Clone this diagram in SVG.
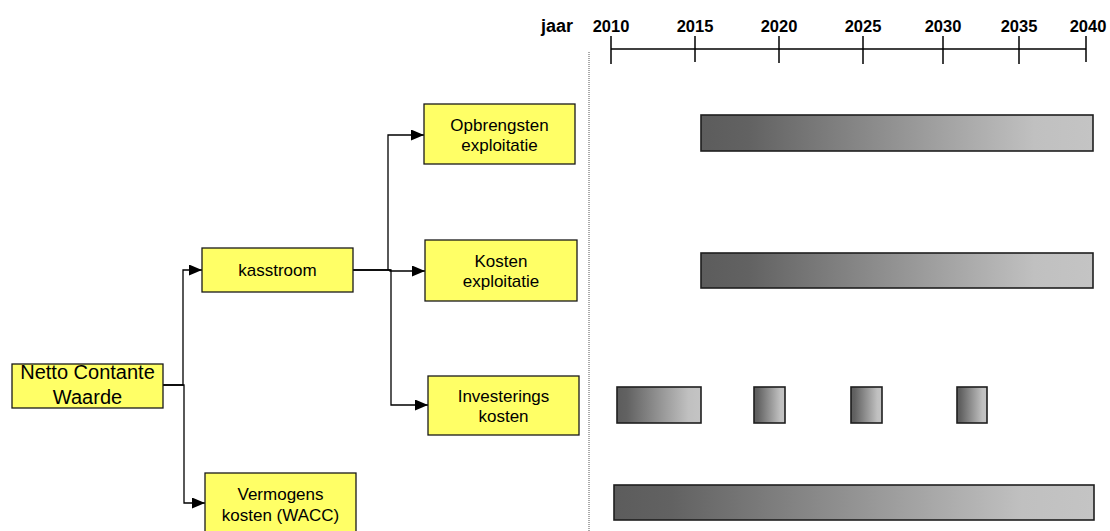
<svg xmlns="http://www.w3.org/2000/svg" width="1110" height="531" viewBox="0 0 1110 531">
<style>
.node rect{fill:#ffff66;stroke:#1a1a1a;stroke-width:1.3}
.node text{font-family:"Liberation Sans",Arial,sans-serif;font-size:17px;fill:#000;text-anchor:middle}
.big text{font-size:20px}
.conn path{fill:none;stroke:#000;stroke-width:1.3}
.axis line{stroke:#000;stroke-width:1.5}
.yr{font-family:"Liberation Sans",Arial,sans-serif;font-size:16.5px;font-weight:bold;text-anchor:middle;fill:#000}
.bar{fill:url(#g);stroke:#1e1e1e;stroke-width:1.6}
</style>
<defs>
<linearGradient id="g" x1="0" y1="0" x2="1" y2="0">
<stop offset="0" stop-color="#5c5c5c"/>
<stop offset="0.12" stop-color="#626262"/>
<stop offset="0.85" stop-color="#c0c0c0"/>
<stop offset="1" stop-color="#c4c4c4"/>
</linearGradient>
<marker id="arr" viewBox="0 0 13 11" refX="13" refY="5.5" markerWidth="13" markerHeight="11" markerUnits="userSpaceOnUse" orient="auto">
<path d="M0,0 L13,5.5 L0,11 Z" fill="#000"/>
</marker>
</defs>
<rect width="1110" height="531" fill="#fff"/>

<g id="timeline">
<text class="yr" x="557" y="32" style="font-size:18px">jaar</text>
<text class="yr" x="611" y="32">2010</text>
<text class="yr" x="695" y="32">2015</text>
<text class="yr" x="779" y="32">2020</text>
<text class="yr" x="863" y="32">2025</text>
<text class="yr" x="943" y="32">2030</text>
<text class="yr" x="1019" y="32">2035</text>
<text class="yr" x="1088" y="32">2040</text>
<g class="axis">
<line x1="611" y1="49" x2="1086" y2="49"/>
<line x1="611" y1="36" x2="611" y2="64"/>
<line x1="695" y1="36" x2="695" y2="62"/>
<line x1="779" y1="36" x2="779" y2="63"/>
<line x1="863" y1="36" x2="863" y2="64"/>
<line x1="943" y1="36" x2="943" y2="64"/>
<line x1="1019" y1="36" x2="1019" y2="64"/>
<line x1="1086" y1="36" x2="1086" y2="62"/>
</g>
<line x1="589" y1="52" x2="589" y2="531" stroke="#555" stroke-width="1" stroke-dasharray="1,1"/>
</g>

<g id="bars">
<rect class="bar" x="701" y="115" width="392" height="36"/>
<rect class="bar" x="701" y="253" width="392" height="35"/>
<rect class="bar" x="617" y="387" width="84" height="36"/>
<rect class="bar" x="754" y="387" width="31" height="36"/>
<rect class="bar" x="851" y="387" width="31" height="36"/>
<rect class="bar" x="957" y="387" width="30" height="36"/>
<rect class="bar" x="614" y="485" width="480" height="35"/>
</g>

<g id="connectors" class="conn">
<path d="M163,385 H183 V270 H202" marker-end="url(#arr)"/>
<path d="M163,385 H184 V503 H205" marker-end="url(#arr)"/>
<path d="M353,270 H388 V135 H424" marker-end="url(#arr)"/>
<path d="M353,270 H390 V271 H425" marker-end="url(#arr)"/>
<path d="M388,270 H391 V405 H428" marker-end="url(#arr)"/>
</g>

<g id="ncw" class="node big">
<rect x="12" y="364" width="151" height="44"/>
<text x="87.5" y="379">Netto Contante</text>
<text x="87.5" y="404">Waarde</text>
</g>
<g id="kasstroom" class="node">
<rect x="202" y="248" width="151" height="44"/>
<text x="277.5" y="276">kasstroom</text>
</g>
<g id="opbrengsten" class="node">
<rect x="424" y="104" width="151" height="60"/>
<text x="499.5" y="131">Opbrengsten</text>
<text x="499.5" y="151">exploitatie</text>
</g>
<g id="kosten" class="node">
<rect x="425" y="240" width="152" height="61"/>
<text x="501" y="267">Kosten</text>
<text x="501" y="287">exploitatie</text>
</g>
<g id="investerings" class="node">
<rect x="428" y="376" width="151" height="59"/>
<text x="503.5" y="402">Investerings</text>
<text x="503.5" y="422">kosten</text>
</g>
<g id="vermogens" class="node">
<rect x="205" y="473" width="151" height="62"/>
<text x="280.5" y="500">Vermogens</text>
<text x="280.5" y="521">kosten (WACC)</text>
</g>
</svg>
